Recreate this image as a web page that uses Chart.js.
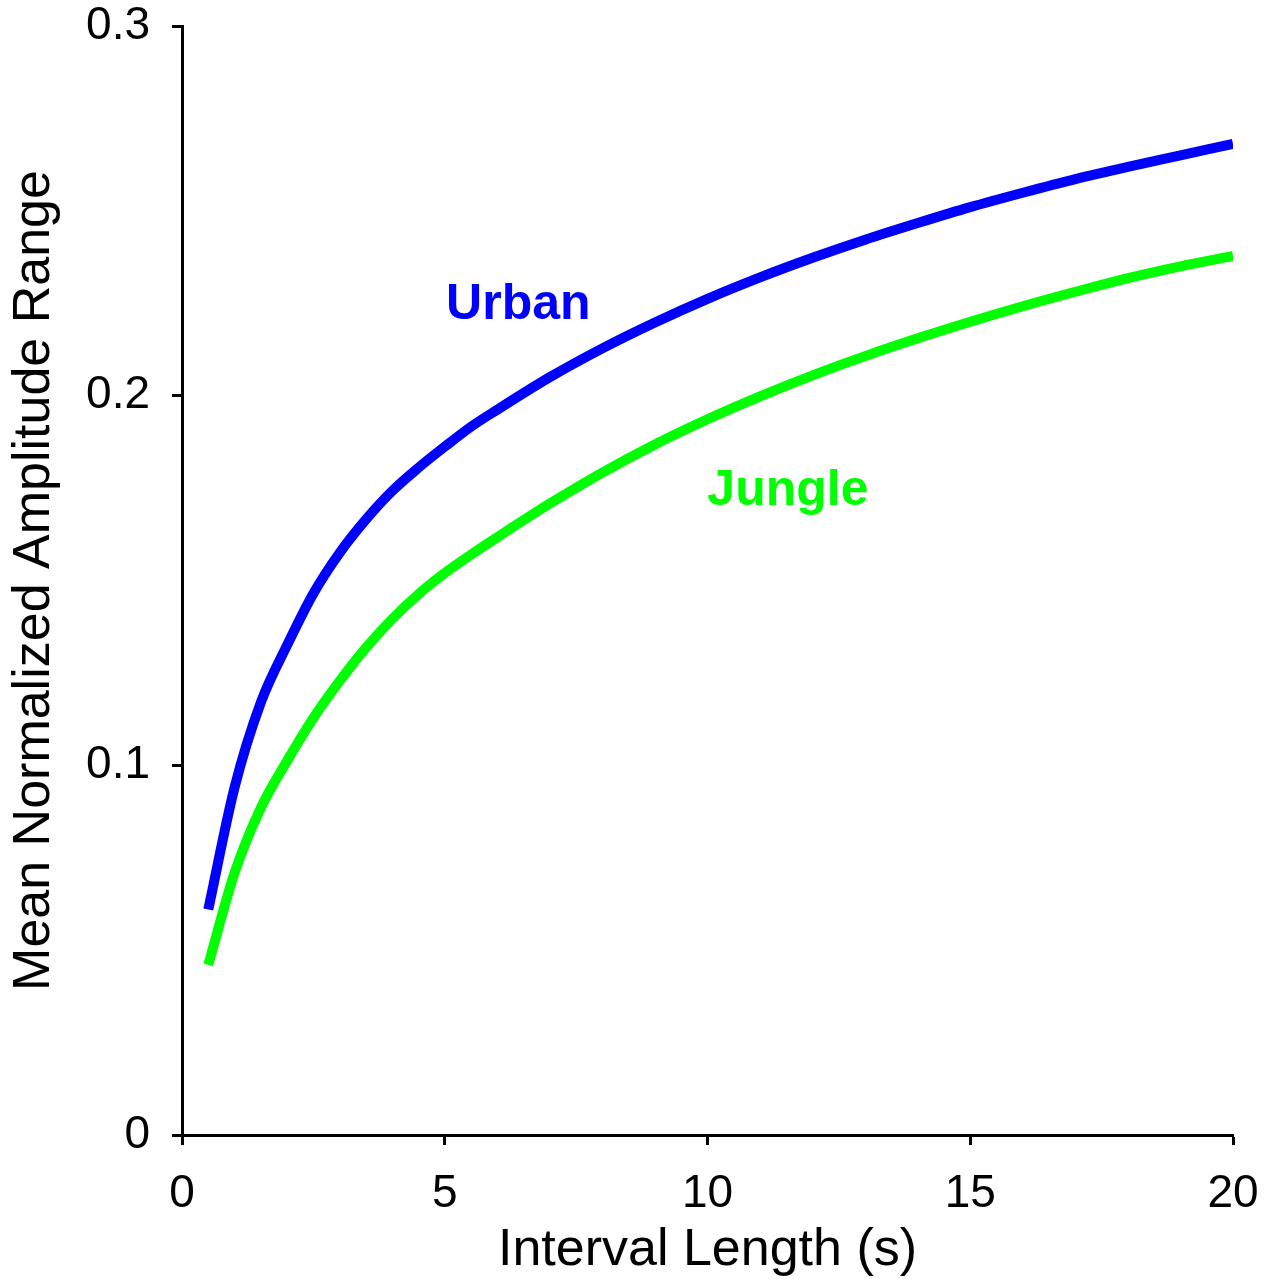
<!DOCTYPE html>
<html>
<head>
<meta charset="utf-8">
<script src="https://cdn.jsdelivr.net/npm/chart.js@4.4.1/dist/chart.umd.min.js"></script>
<style>
  html, body { margin: 0; padding: 0; background: #fff; }
  canvas { display: block; }
</style>
</head>
<body>
<canvas id="chart" width="1275" height="1279"></canvas>
<script>
// interval lengths (s)
const intervals = [0.5, 1, 1.5, 2, 2.5, 3, 3.5, 4, 4.5, 5, 5.5, 6, 7, 8, 9, 10, 11, 12, 13, 14, 15, 16, 17, 18, 19, 20];

// mean normalized amplitude range
const urbanValues = [0.061, 0.094, 0.117, 0.1325, 0.1465, 0.1575, 0.1665, 0.1742, 0.1805, 0.1862, 0.1916, 0.1962,
  0.2050, 0.2128, 0.2198, 0.2262, 0.2320, 0.2373, 0.2422, 0.2467, 0.2510, 0.2549, 0.2586, 0.2619, 0.2650, 0.2681];
const jungleValues = [0.046, 0.0709, 0.0885, 0.1012, 0.1128, 0.1228, 0.1318, 0.1396, 0.1463, 0.1520, 0.1570, 0.1617,
  0.1708, 0.1792, 0.1868, 0.1936, 0.1998, 0.2055, 0.2107, 0.2155, 0.2200, 0.2242, 0.2281, 0.2318, 0.2350, 0.2378];

const seriesLabels = ['Urban', 'Jungle'];
const xTickStep = 5;
const yTickStep = 0.1;

const blue = '#0000FF';
const green = '#00FF00';

function toPoints(values) {
  return intervals.map((x, i) => ({ x: x, y: values[i] }));
}

// labels written next to the curves
const curveLabels = {
  id: 'curveLabels',
  afterDatasetsDraw(chart) {
    const { ctx, scales } = chart;
    ctx.save();
    ctx.font = 'bold 50px "Liberation Sans", Arial, sans-serif';
    ctx.textAlign = 'center';
    ctx.textBaseline = 'middle';
    ctx.fillStyle = blue;
    ctx.fillText(seriesLabels[0], scales.x.getPixelForValue(6.4), scales.y.getPixelForValue(0.2245));
    ctx.fillStyle = green;
    ctx.fillText(seriesLabels[1], scales.x.getPixelForValue(11.53), scales.y.getPixelForValue(0.1742));
    ctx.restore();
  }
};

// keep the tick labels from pushing the plot area in
function noLabelPadding(scale) {
  scale.paddingTop = 0;
  scale.paddingBottom = 0;
  scale.paddingLeft = 0;
  scale.paddingRight = 0;
}

const tickFont = { family: '"Liberation Sans", Arial, sans-serif', size: 46 };
const titleFont = { family: '"Liberation Sans", Arial, sans-serif', size: 52, lineHeight: 1 };

new Chart(document.getElementById('chart'), {
  type: 'line',
  data: {
    datasets: [
      {
        label: seriesLabels[0],
        data: toPoints(urbanValues),
        borderColor: blue,
        borderWidth: 10,
        pointRadius: 0,
        borderCapStyle: 'butt',
        cubicInterpolationMode: 'monotone',
        fill: false,
      },
      {
        label: seriesLabels[1],
        data: toPoints(jungleValues),
        borderColor: green,
        borderWidth: 10,
        pointRadius: 0,
        borderCapStyle: 'butt',
        cubicInterpolationMode: 'monotone',
        fill: false,
      },
    ],
  },
  options: {
    responsive: false,
    animation: false,
    events: [],
    layout: { padding: { top: 26, right: 42, left: 0, bottom: 0 } },
    plugins: { legend: { display: false }, tooltip: { enabled: false } },
    scales: {
      x: {
        type: 'linear',
        min: 0,
        max: 20,
        afterFit: (scale) => { scale.height = 144; noLabelPadding(scale); },
        ticks: { stepSize: xTickStep, color: '#000', font: tickFont, padding: 22, maxRotation: 0 },
        grid: { drawOnChartArea: false, drawTicks: true, tickLength: 10, tickWidth: 3, color: '#000' },
        border: { color: '#000', width: 3 },
        title: { display: true, text: 'Interval Length (s)', color: '#000', font: titleFont, padding: { top: 0, bottom: 2 } },
      },
      y: {
        type: 'linear',
        min: 0,
        max: 0.3,
        afterFit: (scale) => { scale.width = 182; noLabelPadding(scale); },
        ticks: { stepSize: yTickStep, color: '#000', font: tickFont, padding: 22 },
        grid: { drawOnChartArea: false, drawTicks: true, tickLength: 10, tickWidth: 3, color: '#000' },
        border: { color: '#000', width: 3 },
        title: { display: true, text: 'Mean Normalized Amplitude Range', color: '#000', font: titleFont, padding: { top: 9, bottom: 0 } },
      },
    },
  },
  plugins: [curveLabels],
});
</script>
</body>
</html>
